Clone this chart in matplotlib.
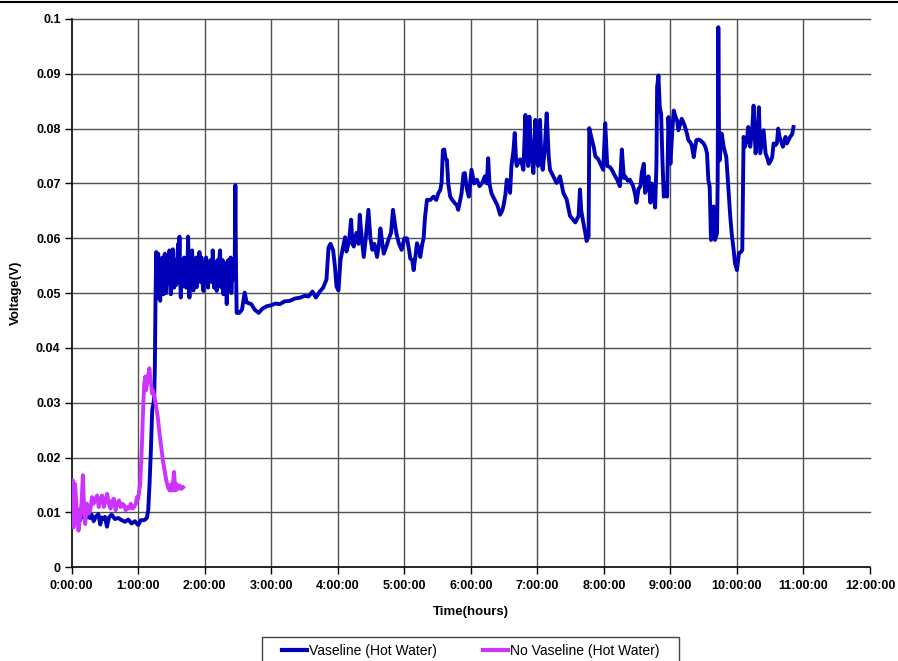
import matplotlib
matplotlib.use("Agg")
import matplotlib.pyplot as plt
from matplotlib.patches import Rectangle
from matplotlib.lines import Line2D

# ---- data (time in hours, voltage in V) ----
# Vaseline (Hot Water)
vas_t = [0.00,0.02,0.04,0.07,0.10,0.13,0.15,0.18,0.22,0.25,0.28,0.30,0.33,0.36,0.40,0.43,0.45,0.48,0.50,0.53,
         0.56,0.60,0.65,0.70,0.75,0.80,0.85,0.90,0.95,1.00,1.04,1.09,1.13,1.15,1.17,1.19,1.21,1.23,1.24,1.25,
         1.26,
         1.27,1.28,1.29,1.30,1.31,1.32,1.33,1.34,1.35,1.36,1.37,1.38,1.39,1.40,1.41,1.42,1.43,1.44,1.45,1.46,
         1.47,1.48,1.49,1.50,1.51,1.52,1.53,1.54,1.55,1.56,1.57,1.58,1.59,1.60,1.61,1.62,1.63,1.64,1.65,1.66,
         1.67,1.68,1.69,1.70,1.71,1.72,1.73,1.74,1.75,1.76,1.77,1.78,1.79,1.80,1.81,1.82,1.83,1.84,1.85,1.86,
         1.87,1.88,1.89,1.90,1.91,1.92,1.93,1.94,1.95,1.96,1.97,1.98,1.99,2.00,2.01,2.02,2.03,2.04,2.05,2.06,
         2.07,2.08,2.09,2.10,2.11,2.12,2.13,2.14,2.15,2.16,2.17,2.18,2.19,2.20,2.21,2.22,2.23,2.24,2.25,2.26,
         2.27,2.28,2.29,2.30,2.31,2.32,2.33,2.34,2.35,2.36,2.37,2.38,2.39,2.40,2.41,2.42,2.43,2.44,2.45,
         2.46,2.47,2.48,2.52,2.56,2.60,2.63,2.70,2.75,2.81,2.87,2.93,3.00,3.06,3.13,3.20,3.28,
         3.35,3.44,3.50,3.56,3.62,3.67,3.73,3.78,3.83,3.86,3.89,3.93,3.96,3.98,4.01,4.04,4.08,4.11,4.13,4.17,
         4.20,4.22,4.24,4.28,4.31,4.33,4.36,4.39,4.42,4.46,4.49,4.52,4.55,4.59,4.62,4.64,4.67,4.69,4.73,4.76,
         4.80,4.83,4.86,4.88,4.92,4.96,5.00,5.04,5.07,5.09,5.12,5.14,5.17,5.19,5.22,5.24,5.27,5.29,5.31,5.34,
         5.39,5.44,5.48,5.51,5.54,5.56,5.58,5.60,5.62,5.64,5.66,5.69,5.72,5.76,5.79,5.81,5.84,5.86,5.89,5.91,
         5.94,5.97,5.99,6.01,6.05,6.09,6.13,6.17,6.21,6.24,6.26,6.28,6.31,6.36,6.40,6.44,6.47,6.49,6.52,6.54,
         6.57,6.59,6.61,6.64,6.66,6.68,6.69,6.72,6.74,6.77,6.79,6.82,6.84,6.86,6.88,6.91,6.94,6.97,6.99,7.01,
         7.04,7.06,7.08,7.11,7.14,7.17,7.19,7.24,7.29,7.34,7.37,7.39,7.44,7.49,7.53,7.57,7.62,7.64,7.66,7.69,
         7.72,7.74,7.77,7.78,7.80,7.82,7.85,7.87,7.91,7.94,7.97,7.99,8.02,8.05,8.09,8.12,8.16,8.20,8.24,8.27,
         8.30,8.32,8.36,8.39,8.42,8.44,8.47,8.49,8.52,8.55,8.57,8.60,8.62,8.65,8.67,8.70,8.72,8.74,8.77,8.79,
         8.80,8.82,8.84,8.86,8.88,8.90,8.93,8.95,8.97,9.00,9.03,9.05,9.08,9.10,9.12,9.15,9.17,9.20,9.22,9.25,
         9.27,9.30,9.32,9.35,9.37,9.39,9.42,9.45,9.48,9.50,9.53,9.55,9.57,9.59,9.61,9.63,9.65,9.67,9.70,9.71,
         9.72,9.73,9.74,9.77,9.80,9.84,9.87,9.90,9.92,9.95,9.97,10.00,10.03,10.06,10.08,10.10,10.12,10.15,10.17,10.20,
         10.23,10.25,10.28,10.31,10.33,10.35,10.38,10.40,10.43,10.46,10.48,10.51,10.53,10.55,10.58,10.60,10.62,10.64,10.66,10.69,
         10.71,10.73,10.75,10.78,10.80,10.83,10.85]
vas_v = [0.0080,0.0112,0.0085,0.0108,0.0092,0.0086,0.0104,0.0092,0.0098,0.0091,0.0090,0.0096,0.0084,0.0092,0.0097,0.0078,0.0091,0.0088,0.0092,0.0074,
         0.0091,0.0096,0.0088,0.0090,0.0086,0.0083,0.0087,0.0080,0.0084,0.0077,0.0086,0.0086,0.0090,0.0104,0.0152,0.0213,0.0287,0.0299,0.0310,0.0366,
         0.0488,
         0.0575,0.0520,0.0560,0.0572,0.0490,0.0545,0.0486,0.0560,0.0523,0.0565,0.0540,0.0498,0.0550,0.0572,0.0515,0.0500,0.0540,0.0565,0.0520,0.0550,
         0.0578,0.0525,0.0498,0.0560,0.0530,0.0580,0.0545,0.0510,0.0560,0.0550,0.0515,0.0523,0.0570,0.0590,0.0540,0.0603,0.0530,0.0492,0.0545,0.0560,
         0.0512,0.0520,0.0565,0.0541,0.0525,0.0510,0.0560,0.0548,0.0603,0.0530,0.0492,0.0550,0.0540,0.0520,0.0578,0.0530,0.0505,0.0560,0.0545,0.0520,
         0.0565,0.0511,0.0540,0.0560,0.0525,0.0575,0.0540,0.0520,0.0565,0.0550,0.0515,0.0504,0.0555,0.0540,0.0520,0.0565,0.0560,0.0530,0.0510,0.0550,
         0.0535,0.0523,0.0560,0.0545,0.0520,0.0578,0.0540,0.0510,0.0555,0.0550,0.0520,0.0504,0.0560,0.0540,0.0525,0.0565,0.0578,0.0530,0.0510,0.0545,
         0.0560,0.0498,0.0545,0.0530,0.0515,0.0555,0.0480,0.0530,0.0560,0.0520,0.0530,0.0541,0.0565,0.0500,0.0535,0.0550,0.0525,0.0560,0.0545,
         0.0697,0.0541,0.0464,0.0464,0.0470,0.0501,0.0483,0.0480,0.0470,0.0464,0.0472,0.0476,0.0478,0.0481,0.0480,0.0485,0.0486,
         0.0490,0.0492,0.0495,0.0494,0.0503,0.0492,0.0503,0.0510,0.0525,0.0583,0.0590,0.0578,0.0545,0.0512,0.0505,0.0560,0.0585,0.0602,0.0576,0.0595,
         0.0634,0.0590,0.0585,0.0610,0.0590,0.0643,0.0600,0.0566,0.0600,0.0652,0.0600,0.0579,0.0590,0.0566,0.0590,0.0618,0.0590,0.0572,0.0585,0.0597,
         0.0610,0.0652,0.0625,0.0609,0.0590,0.0579,0.0600,0.0600,0.0580,0.0563,0.0560,0.0542,0.0570,0.0591,0.0580,0.0566,0.0590,0.0600,0.0637,0.0670,
         0.0670,0.0676,0.0670,0.0682,0.0688,0.0701,0.0761,0.0762,0.0745,0.0743,0.0700,0.0676,0.0670,0.0664,0.0660,0.0652,0.0670,0.0682,0.0718,0.0719,
         0.0690,0.0676,0.0700,0.0725,0.0700,0.0707,0.0695,0.0701,0.0713,0.0700,0.0746,0.0700,0.0682,0.0670,0.0660,0.0643,0.0650,0.0659,0.0680,0.0707,
         0.0700,0.0683,0.0732,0.0760,0.0792,0.0740,0.0732,0.0740,0.0744,0.0735,0.0725,0.0825,0.0760,0.0732,0.0822,0.0750,0.0719,0.0816,0.0750,0.0732,
         0.0816,0.0740,0.0725,0.0760,0.0828,0.0750,0.0725,0.0713,0.0701,0.0713,0.0695,0.0683,0.0671,0.0641,0.0635,0.0629,0.0641,0.0689,0.0650,0.0629,
         0.0610,0.0595,0.0604,0.0801,0.0790,0.0780,0.0765,0.0750,0.0745,0.0738,0.0730,0.0725,0.0810,0.0732,0.0730,0.0725,0.0715,0.0707,0.0695,0.0762,
         0.0710,0.0713,0.0705,0.0707,0.0700,0.0695,0.0680,0.0665,0.0690,0.0695,0.0720,0.0736,0.0683,0.0694,0.0713,0.0665,0.0700,0.0689,0.0656,0.0736,
         0.0876,0.0897,0.0839,0.0827,0.0742,0.0676,0.0700,0.0676,0.0821,0.0736,0.0800,0.0833,0.0820,0.0815,0.0797,0.0810,0.0818,0.0810,0.0803,0.0790,
         0.0779,0.0775,0.0770,0.0748,0.0765,0.0779,0.0780,0.0779,0.0775,0.0773,0.0765,0.0755,0.0706,0.0694,0.0597,0.0640,0.0658,0.0597,0.0609,0.0700,
         0.0985,0.0800,0.0742,0.0791,0.0767,0.0748,0.0694,0.0639,0.0610,0.0579,0.0555,0.0542,0.0573,0.0575,0.0579,0.0785,0.0767,0.0780,0.0803,0.0767,
         0.0800,0.0842,0.0755,0.0790,0.0839,0.0755,0.0780,0.0797,0.0755,0.0745,0.0736,0.0742,0.0748,0.0773,0.0770,0.0773,0.0800,0.0785,0.0779,0.0767,
         0.0775,0.0785,0.0773,0.0780,0.0785,0.0790,0.0803]

# No Vaseline (Hot Water)
novas_t = [0.000,0.015,0.030,0.051,0.076,0.102,0.127,0.147,0.168,0.188,0.203,0.228,0.254,0.279,0.305,0.330,0.355,0.381,0.406,0.431,
           0.457,0.482,0.508,0.533,0.558,0.584,0.609,0.635,0.660,0.685,0.711,0.736,0.761,0.787,0.812,0.838,0.863,0.888,0.914,0.939,
           0.964,0.980,1.000,1.015,1.030,1.041,1.056,1.066,1.081,1.091,1.107,1.117,1.132,1.142,1.157,1.168,1.183,1.193,1.208,1.218,
           1.244,1.269,1.294,1.320,1.345,1.371,1.396,1.421,1.447,1.472,1.497,1.513,1.538,1.558,1.574,1.599,1.624,1.650,1.675]
novas_v = [0.0152,0.0159,0.0073,0.0152,0.0104,0.0067,0.0091,0.0116,0.0168,0.0104,0.0079,0.0116,0.0098,0.0104,0.0128,0.0116,0.0125,0.0131,0.0110,0.0125,
           0.0131,0.0110,0.0122,0.0134,0.0116,0.0107,0.0122,0.0125,0.0104,0.0116,0.0122,0.0110,0.0116,0.0113,0.0104,0.0110,0.0107,0.0116,0.0107,0.0110,
           0.0116,0.0128,0.0125,0.0140,0.0152,0.0183,0.0226,0.0262,0.0311,0.0335,0.0348,0.0323,0.0335,0.0348,0.0354,0.0363,0.0341,0.0335,0.0317,0.0323,
           0.0311,0.0293,0.0274,0.0244,0.0220,0.0195,0.0177,0.0159,0.0146,0.0140,0.0152,0.0140,0.0174,0.0140,0.0152,0.0143,0.0149,0.0143,0.0146]

x_ticks = list(range(0, 13))
x_tick_labels = [f"{h}:00:00" for h in x_ticks]
y_ticks = [0, 0.01, 0.02, 0.03, 0.04, 0.05, 0.06, 0.07, 0.08, 0.09, 0.1]
y_tick_labels = ["0", "0.01", "0.02", "0.03", "0.04", "0.05", "0.06", "0.07", "0.08", "0.09", "0.1"]

# ---- figure ----
plt.rcParams['font.family'] = ['Liberation Sans', 'DejaVu Sans']
W, H = 898, 661
fig = plt.figure(figsize=(W / 100, H / 100), dpi=100)
ax = fig.add_axes([71.7 / W, 1 - 567.3 / H, (870 - 71.7) / W, (567.3 - 19) / H])

grid_c = '#505050'
for h in x_ticks[1:-1]:
    ax.axvline(h, color=grid_c, lw=1.0, zorder=1)
for v in y_ticks[1:]:
    ax.axhline(v, color=grid_c, lw=1.0, zorder=1, clip_on=False)

blue = '#0000B8'
purple = '#CC33FF'
ax.plot(vas_t, vas_v, color=blue, lw=2.8, zorder=3, label='Vaseline (Hot Water)', solid_joinstyle='round')
ax.plot(novas_t, novas_v, color=purple, lw=2.8, zorder=4, label='No Vaseline (Hot Water)', solid_joinstyle='round')

ax.set_xlim(0, 12)
ax.set_ylim(0, 0.1)
ax.set_xticks(x_ticks)
ax.set_xticklabels(x_tick_labels, fontsize=9, fontweight='bold')
ax.set_yticks(y_ticks)
ax.set_yticklabels(y_tick_labels, fontsize=9, fontweight='bold')
ax.tick_params(axis='both', direction='out', length=5, width=1, color='black', pad=3)
ax.tick_params(axis='x', pad=4)

for s in ['top', 'right']:
    ax.spines[s].set_visible(False)
for s in ['left', 'bottom']:
    ax.spines[s].set_color('black')
    ax.spines[s].set_linewidth(1.2)

ax.set_xlabel('Time(hours)', fontsize=9.5, fontweight='bold', labelpad=10)
ax.set_ylabel('Voltage(V)', fontsize=9.5, fontweight='bold', labelpad=10)

# legend
handles, labels = ax.get_legend_handles_labels()
leg = fig.legend(handles, labels, loc='center left', bbox_to_anchor=(282 / W, 1 - 651 / H),
                 ncol=2, frameon=False, fontsize=10, handlelength=1.8, handletextpad=0.15,
                 columnspacing=3.3, borderpad=0, borderaxespad=0)
for line in leg.get_lines():
    line.set_linewidth(3)
fig.patches.append(Rectangle((262 / W, 1 - 672 / H), (679 - 262) / W, (672 - 636.5) / H,
                             transform=fig.transFigure, fill=False, edgecolor='#444444', lw=1.0))
# top border line
fig.lines.append(Line2D([0, 1], [1 - 1.5 / H, 1 - 1.5 / H], transform=fig.transFigure, color='black', lw=1.5))

fig.savefig('out.png', dpi=100)
